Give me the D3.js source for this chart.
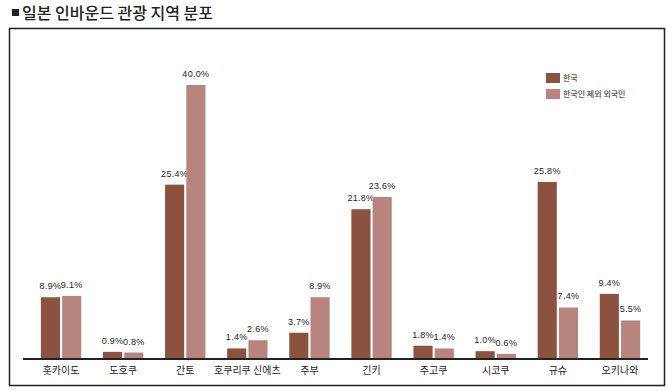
<!DOCTYPE html>
<head>
<meta charset="utf-8">
<style>
    body { margin: 0; background: #fff; }
    text { font-family: "Liberation Sans", Arial, sans-serif; }
    .kr { font-family: "Noto Sans CJK KR", sans-serif; }
</style>
</head>

<body>
    <svg id="container" width="668" height="391"></svg>
</body>

<script src="https://d3js.org/d3.v7.min.js"></script>
<script>

    let regions = ["홋카이도", "도호쿠", "간토", "호쿠리쿠 신에츠", "주부", "긴키", "주고쿠", "시코쿠", "규슈", "오키나와"]
    let korea = [8.9, 0.9, 25.4, 1.4, 3.7, 21.8, 1.8, 1.0, 25.8, 9.4]
    let others = [9.1, 0.8, 40.0, 2.6, 8.9, 23.6, 1.4, 0.6, 7.4, 5.5]
    let seriesNames = ["한국", "한국인 제외 외국인"]
    let colors = ["#8c5240", "#b8847e"]

    let svg = d3.select("#container")

    // title
    svg.append("rect").attr("x", 12).attr("y", 9).attr("width", 7).attr("height", 7).attr("fill", "#222")
    svg.append("text").attr("class", "kr")
        .attr("x", 22).attr("y", 19)
        .attr("font-size", 16).attr("font-weight", 500).attr("fill", "#222")
        .text("일본 인바운드 관광 지역 분포")

    // frame
    svg.append("rect")
        .attr("x", 9.5).attr("y", 28.5).attr("width", 655).attr("height", 357)
        .attr("fill", "none").attr("stroke", "#222").attr("stroke-width", 1.5)

    let x = d3.scaleBand()
        .domain(regions)
        .range([30, 651])
        .paddingInner(0.35)
        .paddingOuter(0.175)

    let x1 = d3.scaleBand()
        .domain([0, 1])
        .range([0, x.bandwidth()])
        .paddingInner(0.1)

    let y = d3.scaleLinear()
        .domain([0, 40])
        .range([358, 85])

    let series = [korea, others]

    series.forEach((vals, s) => {
        let g = svg.append("g")
        g.selectAll("rect")
            .data(vals)
            .enter()
            .append("rect")
            .attr("x", (d, i) => x(regions[i]) + x1(s))
            .attr("y", d => y(d))
            .attr("width", x1.bandwidth())
            .attr("height", d => y(0) - y(d))
            .attr("fill", colors[s])

        g.selectAll("text")
            .data(vals)
            .enter()
            .append("text")
            .attr("x", (d, i) => x(regions[i]) + x1(s) + x1.bandwidth() / 2)
            .attr("y", d => y(d) - 8)
            .attr("text-anchor", "middle")
            .attr("font-size", 9)
            .attr("letter-spacing", 0.3)
            .attr("fill", "#222")
            .text(d => d.toFixed(1) + "%")
    })

    // baseline
    svg.append("line")
        .attr("x1", 23).attr("x2", 648)
        .attr("y1", y(0) + 1).attr("y2", y(0) + 1)
        .attr("stroke", "#222").attr("stroke-width", 2)

    // category labels
    svg.append("g").selectAll("text")
        .data(regions)
        .enter()
        .append("text")
        .attr("class", "kr")
        .attr("x", d => x(d) + x.bandwidth() / 2)
        .attr("y", 374)
        .attr("text-anchor", "middle")
        .attr("font-size", 10)
        .attr("fill", "#222")
        .text(d => d)

    // legend
    let legend = svg.append("g").attr("transform", "translate(546,73)")
    seriesNames.forEach((name, i) => {
        legend.append("rect")
            .attr("x", 0).attr("y", i * 16)
            .attr("width", 14).attr("height", 10)
            .attr("fill", colors[i])
        legend.append("text")
            .attr("class", "kr")
            .attr("x", 17).attr("y", i * 16 + 8)
            .attr("font-size", 8)
            .attr("fill", "#222")
            .text(name)
    })

</script>
